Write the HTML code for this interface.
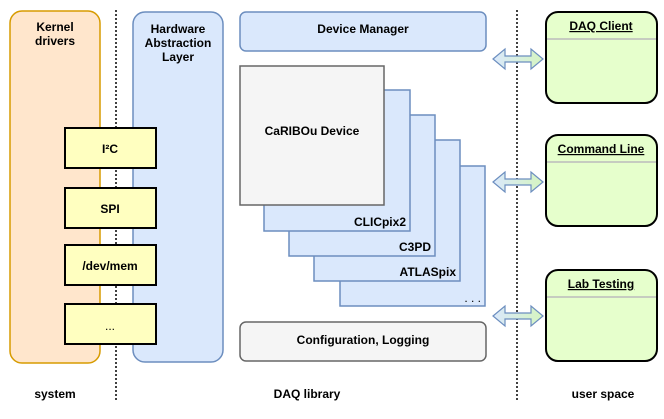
<!DOCTYPE html>
<html><head><meta charset="utf-8"><style>body{margin:0;background:#fff}</style></head><body>
<svg width="664" height="414" viewBox="0 0 664 414" xmlns="http://www.w3.org/2000/svg" font-family="Liberation Sans, sans-serif" font-weight="bold" font-size="12">
<defs><linearGradient id="g" x1="0" x2="1"><stop offset="0" stop-color="#dae8fc"/><stop offset="1" stop-color="#d5f5c0"/></linearGradient>
<g id="arr"><path d="M0 0 L12 -10 L12 -3 L38 -3 L38 -10 L50 0 L38 10 L38 3 L12 3 L12 10 Z" fill="url(#g)" stroke="#6c8ebf" stroke-width="1.2"/></g></defs>
<rect x="10" y="11" width="90" height="352" rx="12" fill="#ffe6cc" stroke="#d79b00" stroke-width="1.5"/>
<text x="55" y="31" text-anchor="middle">Kernel</text><text x="55" y="45" text-anchor="middle">drivers</text>
<line x1="116" y1="10" x2="116" y2="402" stroke="#000" stroke-width="1.5" stroke-dasharray="2,2"/>
<line x1="517" y1="10" x2="517" y2="400" stroke="#000" stroke-width="1.5" stroke-dasharray="2,2"/>
<rect x="133" y="12" width="90" height="350" rx="12" fill="#dae8fc" stroke="#6c8ebf" stroke-width="1.5"/>
<text x="178" y="33" text-anchor="middle">Hardware</text><text x="178" y="47" text-anchor="middle">Abstraction</text><text x="178" y="61" text-anchor="middle">Layer</text>
<g fill="#ffffc0" stroke="#000" stroke-width="2">
<rect x="65" y="128" width="91" height="40"/><rect x="65" y="188" width="91" height="40"/><rect x="65" y="245" width="91" height="40"/><rect x="65" y="304" width="91" height="40"/></g>
<text x="110" y="153" text-anchor="middle">I²C</text><text x="110" y="213" text-anchor="middle">SPI</text><text x="110" y="270" text-anchor="middle">/dev/mem</text><text x="110" y="330" text-anchor="middle" font-weight="normal">...</text>
<rect x="240" y="12" width="246" height="39" rx="6" fill="#dae8fc" stroke="#6c8ebf" stroke-width="1.5"/>
<text x="363" y="33" text-anchor="middle">Device Manager</text>
<g fill="#dae8fc" stroke="#6c8ebf" stroke-width="1.5">
<rect x="340" y="166" width="145" height="140"/><rect x="314" y="140" width="146" height="141"/><rect x="289" y="115" width="146" height="141"/><rect x="264" y="90" width="146" height="141"/></g>
<rect x="240" y="66" width="144" height="139" fill="#f5f5f5" stroke="#666" stroke-width="1.5"/>
<text x="312" y="135" text-anchor="middle">CaRIBOu Device</text>
<text x="406" y="226" text-anchor="end">CLICpix2</text><text x="431" y="251" text-anchor="end">C3PD</text><text x="456" y="276" text-anchor="end">ATLASpix</text><text x="481" y="302" text-anchor="end" font-weight="normal">. . .</text>
<rect x="240" y="322" width="246" height="39" rx="6" fill="#f5f5f5" stroke="#666" stroke-width="1.5"/>
<text x="363" y="344" text-anchor="middle">Configuration, Logging</text>
<use href="#arr" x="493" y="59"/><use href="#arr" x="493" y="182"/><use href="#arr" x="493" y="316"/>
<g fill="#e6ffcc" stroke="#000" stroke-width="2">
<rect x="546" y="12" width="111" height="91" rx="12"/><rect x="546" y="135" width="111" height="91" rx="12"/><rect x="546" y="270" width="111" height="91" rx="12"/></g>
<g stroke="#bbb" stroke-width="1.5"><line x1="547" y1="39" x2="656" y2="39"/><line x1="547" y1="162" x2="656" y2="162"/><line x1="547" y1="297" x2="656" y2="297"/></g>
<g text-anchor="middle" text-decoration="underline"><text x="601" y="30">DAQ Client</text><text x="601" y="153">Command Line</text><text x="601" y="288">Lab Testing</text></g>
<text x="55" y="398" text-anchor="middle">system</text><text x="307" y="398" text-anchor="middle">DAQ library</text><text x="603" y="398" text-anchor="middle">user space</text>
</svg>
</body></html>
